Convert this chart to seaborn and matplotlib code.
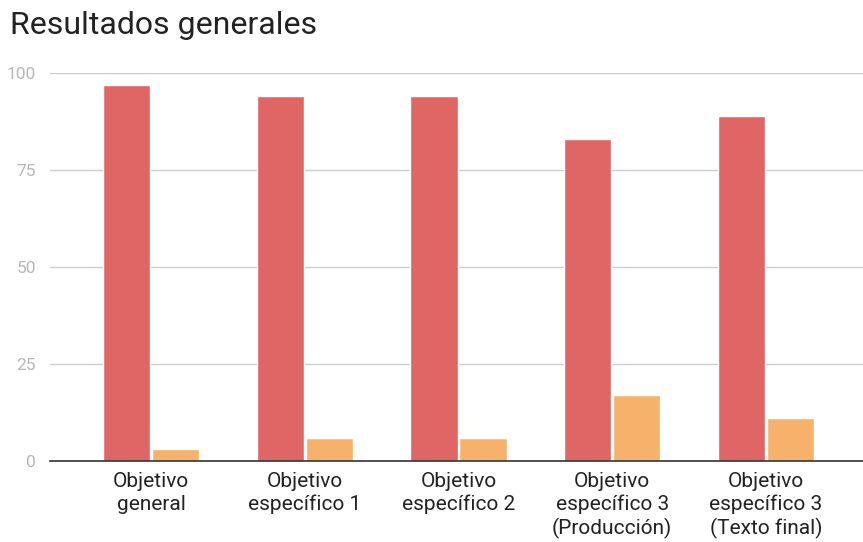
import matplotlib
matplotlib.use("Agg")
import matplotlib.pyplot as plt
import pandas as pd
import seaborn as sns

categorias = [
    "Objetivo\ngeneral",
    "Objetivo\nespecífico 1",
    "Objetivo\nespecífico 2",
    "Objetivo\nespecífico 3\n(Producción)",
    "Objetivo\nespecífico 3\n(Texto final)",
]
serie_a = [97, 94, 94, 83, 89]
serie_b = [3, 6, 6, 17, 11]
series = ["A", "B"]
colores = ["#e06666", "#f6b26b"]

sns.set_theme(style="white")
plt.rcParams["font.family"] = ["Roboto", "DejaVu Sans"]

df = pd.DataFrame({
    "cat": categorias * 2,
    "serie": [series[0]] * len(categorias) + [series[1]] * len(categorias),
    "valor": serie_a + serie_b,
})

fig = plt.figure(figsize=(8.63, 5.42), dpi=100)
ax = fig.add_axes([50 / 863, 1 - 461 / 542, 813 / 863, 388 / 542])
sns.barplot(data=df, x="cat", y="valor", hue="serie", order=categorias,
            hue_order=series, palette=colores, saturation=1, width=0.64,
            gap=0.04, legend=False, ax=ax)

ax.set_xlim(-0.657, 4.631)
ax.set_ylim(0, 100)
ax.set_yticks([0, 25, 50, 75, 100])
ax.yaxis.grid(True, color="#cccccc", linewidth=1)
ax.set_axisbelow(True)
for s in ["top", "right", "left"]:
    ax.spines[s].set_visible(False)
ax.spines["bottom"].set_color("#333333")
ax.spines["bottom"].set_linewidth(1.2)
ax.tick_params(axis="y", colors="#b7b7b7", labelsize=12.5, length=0, pad=10)
ax.tick_params(axis="x", colors="#222222", labelsize=15, length=0, pad=8)
for lab in ax.get_yticklabels():
    lab.set_color("#b7b7b7")
for lab in ax.get_xticklabels():
    lab.set_linespacing(1.24)
ax.set_xlabel("")
ax.set_ylabel("")
fig.text(10 / 863, 1 - 26 / 542, "Resultados generales", fontsize=23,
         color="#222222", va="center", ha="left")

fig.savefig("out.png", dpi=100)
